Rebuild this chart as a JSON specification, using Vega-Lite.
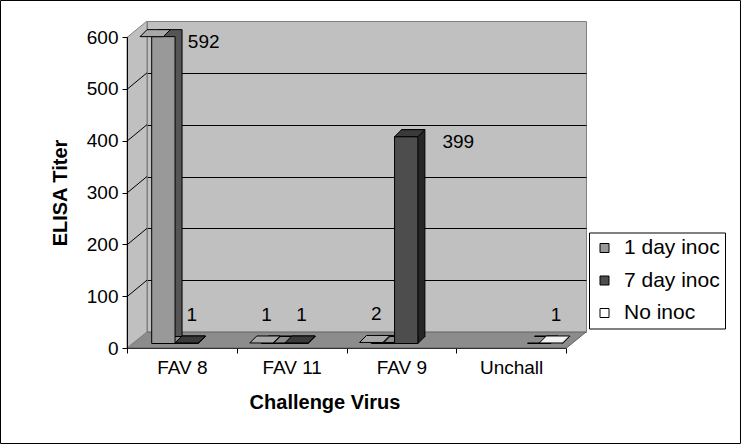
{
  "$schema": "https://vega.github.io/schema/vega-lite/v6.json",
  "width": 439,
  "height": 311,
  "autosize": "none",
  "padding": {"left": 147, "top": 21, "right": 155, "bottom": 112},
  "background": "white",
  "config": {
    "font": "Liberation Sans",
    "view": {"fill": "#c0c0c0", "stroke": "#808080", "strokeWidth": 1},
    "axis": {"grid": false, "labelFont": "Liberation Sans", "labelFontSize": 19, "labelColor": "black", "titleFont": "Liberation Sans", "titleFontSize": 20, "titleFontWeight": "bold", "titleColor": "black", "domainColor": "black", "tickColor": "black", "tickSize": 5},
    "axisX": {"offset": 36, "translate": -19.5, "tickBand": "extent", "labelAngle": 0, "labelPadding": 5, "titlePadding": 15, "titleX": 197.5, "zindex": 1},
    "legend": {"labelFont": "Liberation Sans", "labelFontSize": 21, "labelColor": "black"}
  },
  "datasets": {
    "titers": [
      {"virus": "FAV 8", "series": "1 day inoc", "value": 592},
      {"virus": "FAV 8", "series": "7 day inoc", "value": 1},
      {"virus": "FAV 11", "series": "1 day inoc", "value": 1},
      {"virus": "FAV 11", "series": "7 day inoc", "value": 1},
      {"virus": "FAV 9", "series": "1 day inoc", "value": 2},
      {"virus": "FAV 9", "series": "7 day inoc", "value": 399},
      {"virus": "Unchall", "series": "No inoc", "value": 1}
    ]
  },
  "data": {"name": "titers"},
  "resolve": {"scale": {"fill": "independent", "xOffset": "independent"}, "axis": {"y": "independent"}},
  "layer": [
    {
      "data": {"values": [{}]},
      "mark": {"type": "point", "shape": "M -0.9146 0 L 0.9146 0 L 0.8333 0.0667 L -0.9979 0.0667 Z", "size": 230400, "filled": true, "fill": "#8c8c8c", "stroke": "#606060", "strokeWidth": 1, "opacity": 1},
      "encoding": {"y": {"datum": 0, "type": "quantitative", "scale": {"domain": [0, 600], "nice": false}, "axis": null}}
    },
    {
      "data": {"values": [{}]},
      "mark": {"type": "point", "shape": "M -0.9979 -1.2271 L -0.9146 -1.2958 L -0.9146 0 L -0.9979 0.0667 Z", "size": 230400, "filled": true, "fill": "#c0c0c0", "stroke": "#808080", "strokeWidth": 1, "opacity": 1},
      "encoding": {"y": {"datum": 0, "type": "quantitative", "scale": {"domain": [0, 600], "nice": false}, "axis": null}}
    },
    {
      "data": {"values": [{}]},
      "mark": {"type": "point", "shape": "M -0.9979 -0.1472 L -0.9146 -0.216 M -0.9979 -0.3632 L -0.9146 -0.432 M -0.9979 -0.5792 L -0.9146 -0.6479 M -0.9979 -0.7951 L -0.9146 -0.8639 M -0.9979 -1.0111 L -0.9146 -1.0799", "size": 230400, "filled": false, "stroke": "black", "strokeWidth": 1, "opacity": 1},
      "encoding": {"y": {"datum": 0, "type": "quantitative", "scale": {"domain": [0, 600], "nice": false}, "axis": null}}
    },
    {
      "data": {"values": [{}]},
      "mark": {"type": "point", "shape": "M -1.525 -1.3813 L 1.5583 -1.3813 L 1.5583 0.4646 L -1.525 0.4646 Z", "size": 230400, "filled": false, "stroke": "black", "strokeWidth": 1, "opacity": 1},
      "encoding": {"y": {"datum": 0, "type": "quantitative", "scale": {"domain": [0, 600], "nice": false}, "axis": null}}
    },
    {
      "mark": {"type": "bar", "stroke": "black", "strokeWidth": 1, "yOffset": 4.5, "y2Offset": 4.5},
      "encoding": {
        "x": {"field": "virus", "type": "nominal", "sort": ["FAV 8", "FAV 11", "FAV 9", "Unchall"], "scale": {"paddingInner": 0, "paddingOuter": 0}, "title": "Challenge Virus"},
        "xOffset": {"field": "series", "type": "nominal", "scale": {"domain": ["1 day inoc", "7 day inoc", "No inoc"], "range": [11.7, 81.75], "paddingInner": 0, "paddingOuter": 0}},
        "y": {"field": "value", "type": "quantitative", "scale": {"domain": [0, 600], "nice": false},
              "axis": {"orient": "right", "grid": true, "gridColor": "black", "gridWidth": 1, "values": [100, 200, 300, 400, 500], "domain": false, "ticks": false, "labels": false, "title": null, "offset": 0, "translate": 0.5, "zindex": 0}},
        "fill": {"field": "series", "type": "nominal", "scale": {"domain": ["1 day inoc", "7 day inoc", "No inoc"], "range": ["#555555", "#262626", "#c0c0c0"]}, "legend": null}
      }
    },
    {
      "mark": {"type": "point", "shape": "M 0.5835 -0.37 L 0.5835 0 L 0.9335 -0.35 L 0.915 -0.37", "size": 1600, "filled": true, "stroke": "black", "strokeWidth": 1, "opacity": 1, "yOffset": 11.5},
      "encoding": {
        "x": {"field": "virus", "type": "nominal", "sort": ["FAV 8", "FAV 11", "FAV 9", "Unchall"], "scale": {"paddingInner": 0, "paddingOuter": 0}, "title": "Challenge Virus"},
        "xOffset": {"field": "series", "type": "nominal", "scale": {"domain": ["1 day inoc", "7 day inoc", "No inoc"], "range": [4.7, 74.75], "paddingInner": 0, "paddingOuter": 0}},
        "y": {"datum": 0, "type": "quantitative", "scale": {"domain": [0, 600], "nice": false}, "axis": null},
        "fill": {"field": "series", "type": "nominal", "scale": {"domain": ["1 day inoc", "7 day inoc", "No inoc"], "range": ["#555555", "#262626", "#c0c0c0"]}, "legend": null}
      }
    },
    {
      "mark": {"type": "bar", "stroke": "black", "strokeWidth": 1, "yOffset": 11.5, "y2Offset": 11.5},
      "encoding": {
        "x": {"field": "virus", "type": "nominal", "sort": ["FAV 8", "FAV 11", "FAV 9", "Unchall"], "scale": {"paddingInner": 0, "paddingOuter": 0}, "title": "Challenge Virus"},
        "xOffset": {"field": "series", "type": "nominal", "scale": {"domain": ["1 day inoc", "7 day inoc", "No inoc"], "range": [4.7, 74.75], "paddingInner": 0, "paddingOuter": 0}},
        "y": {"field": "value", "type": "quantitative", "scale": {"domain": [0, 600], "nice": false},
              "axis": {"orient": "left", "title": "ELISA Titer", "values": [0, 100, 200, 300, 400, 500, 600], "offset": 36, "translate": 16.5, "tickSize": 5, "labelPadding": 4, "titlePadding": 16, "grid": false, "zindex": 1}},
        "color": {"field": "series", "type": "nominal", "scale": {"domain": ["1 day inoc", "7 day inoc", "No inoc"], "range": ["#999999", "#4d4d4d", "#ffffff"]},
                  "legend": {"orient": "none", "legendX": 442, "legendY": 211.5, "title": null, "symbolType": "square", "symbolSize": 81, "symbolStrokeColor": "black", "symbolStrokeWidth": 1, "strokeColor": "black", "padding": 5, "rowPadding": 10.5, "labelOffset": 9}}
      }
    },
    {
      "mark": {"type": "point", "shape": "M -0.5835 0 L 0.5835 0 L 0.9335 -0.35 L -0.2335 -0.35 Z", "size": 1600, "filled": true, "stroke": "black", "strokeWidth": 1, "opacity": 1, "yOffset": 11.5},
      "encoding": {
        "x": {"field": "virus", "type": "nominal", "sort": ["FAV 8", "FAV 11", "FAV 9", "Unchall"], "scale": {"paddingInner": 0, "paddingOuter": 0}, "title": "Challenge Virus"},
        "xOffset": {"field": "series", "type": "nominal", "scale": {"domain": ["1 day inoc", "7 day inoc", "No inoc"], "range": [4.7, 74.75], "paddingInner": 0, "paddingOuter": 0}},
        "y": {"field": "value", "type": "quantitative", "scale": {"domain": [0, 600], "nice": false}, "axis": null},
        "fill": {"field": "series", "type": "nominal", "scale": {"domain": ["1 day inoc", "7 day inoc", "No inoc"], "range": ["#a8a8a8", "#3a3a3a", "#f2f2f2"]}, "legend": null}
      }
    },
    {
      "transform": [{"filter": "datum.value > 100"}],
      "mark": {"type": "text", "fontSize": 19, "align": "center", "baseline": "middle", "dx": 52, "dy": 17, "color": "black"},
      "encoding": {
        "x": {"field": "virus", "type": "nominal", "sort": ["FAV 8", "FAV 11", "FAV 9", "Unchall"], "scale": {"paddingInner": 0, "paddingOuter": 0}, "title": "Challenge Virus"},
        "xOffset": {"field": "series", "type": "nominal", "scale": {"domain": ["1 day inoc", "7 day inoc", "No inoc"], "range": [4.7, 74.75], "paddingInner": 0, "paddingOuter": 0}},
        "y": {"field": "value", "type": "quantitative", "scale": {"domain": [0, 600], "nice": false}, "axis": null},
        "text": {"field": "value", "type": "quantitative"}
      }
    },
    {
      "transform": [{"filter": "datum.value <= 100"}],
      "mark": {"type": "text", "fontSize": 19, "align": "center", "baseline": "middle", "dx": 5, "dy": -16.5, "color": "black"},
      "encoding": {
        "x": {"field": "virus", "type": "nominal", "sort": ["FAV 8", "FAV 11", "FAV 9", "Unchall"], "scale": {"paddingInner": 0, "paddingOuter": 0}, "title": "Challenge Virus"},
        "xOffset": {"field": "series", "type": "nominal", "scale": {"domain": ["1 day inoc", "7 day inoc", "No inoc"], "range": [4.7, 74.75], "paddingInner": 0, "paddingOuter": 0}},
        "y": {"field": "value", "type": "quantitative", "scale": {"domain": [0, 600], "nice": false}, "axis": null},
        "text": {"field": "value", "type": "quantitative"}
      }
    }
  ]
}
